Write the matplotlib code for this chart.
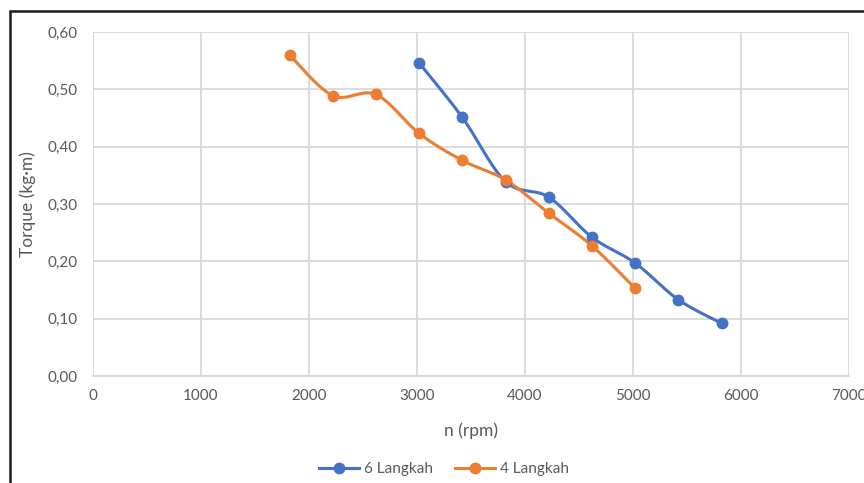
import numpy as np
import matplotlib
matplotlib.use("Agg")
import matplotlib.pyplot as plt
from matplotlib.lines import Line2D
from matplotlib.patches import Rectangle

plt.rcParams["font.family"] = ["Lato", "DejaVu Sans"]

# data
rpm_6 = [3020, 3420, 3820, 4220, 4620, 5020, 5420, 5820]
torque_6 = [0.546, 0.451, 0.339, 0.312, 0.242, 0.197, 0.133, 0.092]
rpm_4 = [1820, 2220, 2620, 3020, 3420, 3820, 4220, 4620, 5020]
torque_4 = [0.560, 0.489, 0.491, 0.423, 0.376, 0.342, 0.284, 0.227, 0.153]

x_ticks = [0, 1000, 2000, 3000, 4000, 5000, 6000, 7000]
y_ticks = [0.0, 0.1, 0.2, 0.3, 0.4, 0.5, 0.6]

BLUE = "#4472C4"
ORANGE = "#ED7D31"
GRID = "#D9D9D9"
TXT = "#595959"

XLIM = (0, 7000)
YLIM = (0, 0.6)


def smooth(xs, ys, ax_w, ax_h, n=30):
    """Excel-like smoothed line: cubic bezier, tension 1/6, in screen space"""
    px = (np.asarray(xs, float) - XLIM[0]) / (XLIM[1] - XLIM[0]) * ax_w
    py = (np.asarray(ys, float) - YLIM[0]) / (YLIM[1] - YLIM[0]) * ax_h
    pts = np.column_stack([px, py])
    ext = np.vstack([pts[:1], pts, pts[-1:]])
    t = np.linspace(0, 1, n)[:, None]
    out = [pts[:1]]
    for i in range(len(pts) - 1):
        p0, p1, p2, p3 = ext[i], ext[i + 1], ext[i + 2], ext[i + 3]
        c1 = p1 + (p2 - p0) / 6
        c2 = p2 - (p3 - p1) / 6
        seg = ((1 - t) ** 3) * p1 + 3 * ((1 - t) ** 2) * t * c1 \
            + 3 * (1 - t) * t ** 2 * c2 + t ** 3 * p2
        out.append(seg[1:])
    curve = np.vstack(out)
    cx = curve[:, 0] / ax_w * (XLIM[1] - XLIM[0]) + XLIM[0]
    cy = curve[:, 1] / ax_h * (YLIM[1] - YLIM[0]) + YLIM[0]
    return cx, cy


fig = plt.figure(figsize=(8.64, 4.83), dpi=100)
ax = fig.add_axes([93 / 864, 1 - 376 / 483, 756 / 864, 344 / 483])
ax_w, ax_h = 756, 344

# outer chart border (black, cut by image edge on right/bottom)
fig.patches.append(Rectangle((10 / 864, -0.1), 1.1, 1 - 11 / 483 + 0.1,
                             transform=fig.transFigure, fill=False,
                             edgecolor="#1a1a1a", linewidth=1.8, zorder=0))

for xs, ys, col in [(rpm_6, torque_6, BLUE), (rpm_4, torque_4, ORANGE)]:
    cx, cy = smooth(xs, ys, ax_w, ax_h)
    ax.plot(cx, cy, color=col, linewidth=2.2, solid_capstyle="round", zorder=3)
    ax.plot(xs, ys, linestyle="none", marker="o", markersize=7.5,
            color=col, zorder=4)

ax.set_xlim(*XLIM)
ax.set_ylim(*YLIM)
ax.set_xticks(x_ticks)
ax.set_yticks(y_ticks)
ax.set_yticklabels([f"{v:.2f}".replace(".", ",") for v in y_ticks])
ax.grid(True, color=GRID, linewidth=1.3)
ax.set_axisbelow(True)
for side in ["top", "right", "left"]:
    ax.spines[side].set_visible(False)
ax.spines["bottom"].set_color(GRID)
ax.spines["bottom"].set_linewidth(1.3)
ax.tick_params(length=0, labelsize=11, labelcolor=TXT, pad=9)
ax.tick_params(axis="y", pad=11)

ax.set_xlabel("n (rpm)", fontsize=12.5, color=TXT, labelpad=14)
ax.set_ylabel("Torque (kg·m)", fontsize=12.5, color=TXT, labelpad=8)

handles = [
    Line2D([], [], color=BLUE, linewidth=2.2, marker="o", markersize=7.5),
    Line2D([], [], color=ORANGE, linewidth=2.2, marker="o", markersize=7.5),
]
leg = fig.legend(handles, ["6 Langkah", "4 Langkah"], loc="center",
                 bbox_to_anchor=(444 / 864, 1 - 469 / 483), ncol=2,
                 frameon=False, fontsize=11, handlelength=2.6,
                 columnspacing=1.5, handletextpad=0.3)
for t in leg.get_texts():
    t.set_color(TXT)

fig.savefig("out.png", dpi=100)
